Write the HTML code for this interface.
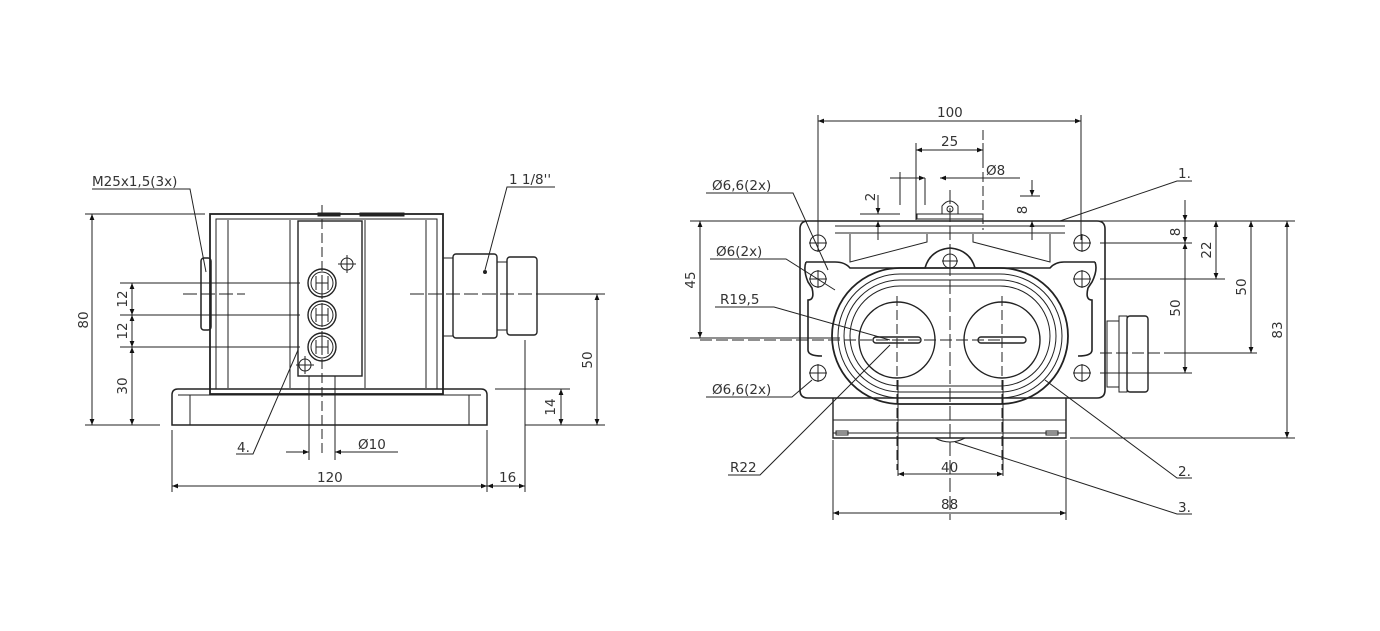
<!DOCTYPE html>
<html><head><meta charset="utf-8"><style>
html,body{margin:0;padding:0;background:#fff}
svg{display:block}
text{font-family:"DejaVu Sans","Liberation Sans",sans-serif;font-size:13.5px;fill:#333}
</style></head><body>
<svg width="1380" height="631" viewBox="0 0 1380 631" xmlns="http://www.w3.org/2000/svg">
<defs>
<marker id="a" viewBox="0 0 10 10" refX="10" refY="5" markerWidth="9" markerHeight="6" orient="auto-start-reverse" markerUnits="userSpaceOnUse"><path d="M0,1 L10,5 L0,9z" fill="#111"/></marker>
</defs>
<g fill="none" stroke="#222" stroke-width="1">
<!-- ============ LEFT VIEW ============ -->
<rect x="210" y="214" width="233" height="180" stroke-width="1.8"/>
<rect x="216" y="219" width="221" height="170"/>
<line x1="228" y1="220" x2="228" y2="388"/><line x1="290" y1="220" x2="290" y2="388"/>
<line x1="365" y1="220" x2="365" y2="388"/><line x1="426" y1="220" x2="426" y2="388"/>
<rect x="298" y="221" width="64" height="155" stroke-width="1.4"/>
<rect x="318" y="213" width="22" height="3" fill="#222"/><rect x="360" y="213" width="44" height="3" fill="#222"/>
<path d="M178,389 H481 Q487,389 487,395 V425 H172 V395 Q172,389 178,389Z" stroke-width="1.5"/>
<line x1="190" y1="395" x2="190" y2="425"/><line x1="469" y1="395" x2="469" y2="425"/>
<line x1="178" y1="395" x2="481" y2="395"/>
<rect x="201" y="258" width="10" height="72" rx="3" stroke-width="1.5"/>
<rect x="443" y="258" width="10" height="78"/>
<rect x="453" y="254" width="44" height="84" rx="3" stroke-width="1.4"/>
<rect x="497" y="262" width="10" height="68"/>
<rect x="507" y="257" width="30" height="78" rx="3" stroke-width="1.4"/>
<circle cx="485" cy="272" r="1.5" fill="#222"/>
<g stroke-width="1.4">
<circle cx="322" cy="283" r="14"/><circle cx="322" cy="315" r="14"/><circle cx="322" cy="347" r="14"/>
</g>
<circle cx="322" cy="283" r="11"/><circle cx="322" cy="315" r="11"/><circle cx="322" cy="347" r="11"/>
<path d="M316,276v14M322,276v14M328,276v14M316,283h12M316,308v14M322,308v14M328,308v14M316,315h12M316,340v14M322,340v14M328,340v14M316,347h12"/>
<circle cx="347" cy="264" r="6"/><path d="M347,255v18M338,264h18"/>
<circle cx="305" cy="365" r="6"/><path d="M305,356v18M296,365h18"/>
<path d="M322,205V455" stroke-dasharray="10,4"/>
<path d="M183,294H245M410,294H537" stroke-dasharray="14,4"/>
<path d="M85,214H205M85,425H160M120,283H300M120,315H300M120,347H300M200,425H230M430,425H470M525,425H605M537,294H605M495,389H570"/>
<line x1="92" y1="214" x2="92" y2="425" marker-start="url(#a)" marker-end="url(#a)"/>
<line x1="132" y1="283" x2="132" y2="315" marker-start="url(#a)" marker-end="url(#a)"/>
<line x1="132" y1="315" x2="132" y2="347" marker-start="url(#a)" marker-end="url(#a)"/>
<line x1="132" y1="347" x2="132" y2="425" marker-start="url(#a)" marker-end="url(#a)"/>
<line x1="597" y1="294" x2="597" y2="425" marker-start="url(#a)" marker-end="url(#a)"/>
<line x1="561" y1="389" x2="561" y2="425" marker-start="url(#a)" marker-end="url(#a)"/>
<path d="M172,430V492M487,430V492M525,340V492M309,376V460M335,376V460"/>
<line x1="172" y1="486" x2="487" y2="486" marker-start="url(#a)" marker-end="url(#a)"/>
<line x1="487" y1="486" x2="525" y2="486" marker-start="url(#a)" marker-end="url(#a)"/>
<line x1="286" y1="452" x2="309" y2="452" marker-end="url(#a)"/>
<line x1="360" y1="452" x2="335" y2="452" marker-end="url(#a)"/>
<path d="M360,452H398"/>
<path d="M92,189H190L206,272"/>
<path d="M555,187H507L485,270"/>
<path d="M236,454H253L298,350"/>

<!-- ============ RIGHT VIEW ============ -->
<path d="M833,398V438H1066V398" stroke-width="1.4"/>
<line x1="833" y1="420" x2="1066" y2="420"/><line x1="833" y1="433" x2="1066" y2="433"/>
<path d="M836,431h12v4h-12zM1046,431h12v4h-12z"/>
<path d="M935,438q15,8 30,0"/>
<path d="M808,221H1097Q1105,221 1105,229V390Q1105,398 1097,398H808Q800,398 800,390V229Q800,221 808,221Z" stroke-width="1.6"/>
<path d="M835,226H1065M835,233H1065"/>
<path d="M850,234V262L927,242V234M1050,234V262L973,242V234"/>
<path d="M806,262H835Q845,262 850,268 L925,268 Q930,250 950,248 Q970,250 975,268 L1050,268 Q1055,262 1064,262H1095 M806,262 Q803,270 808,282 L812,288 Q815,300 808,300 V350 Q808,356 822,356 M1095,262 Q1098,270 1092,282 L1088,288 Q1085,300 1092,300 V350 Q1092,356 1078,356" stroke-width="1.6"/>
<path d="M900,268H1000A68,68 0 0 1 1068,336A68,68 0 0 1 1000,404H900A68,68 0 0 1 832,336A68,68 0 0 1 900,268Z" stroke-width="1.8"/>
<path d="M900,274H1000A62,62 0 0 1 1062,336A62,62 0 0 1 1000,398H900A62,62 0 0 1 838,336A62,62 0 0 1 900,274Z"/>
<path d="M900,280H1000A56,56 0 0 1 1056,336A56,56 0 0 1 1000,392H900A56,56 0 0 1 844,336A56,56 0 0 1 900,280Z"/>
<path d="M900,286H1000A50,50 0 0 1 1050,336A50,50 0 0 1 1000,386H900A50,50 0 0 1 850,336A50,50 0 0 1 900,286Z"/>
<circle cx="897" cy="340" r="38" stroke-width="1.4"/><circle cx="1002" cy="340" r="38" stroke-width="1.4"/>
<rect x="873" y="337" width="48" height="6" rx="3" stroke-width="1.4"/>
<rect x="978" y="337" width="48" height="6" rx="3" stroke-width="1.4"/>
<g>
<circle cx="818" cy="243" r="8"/><circle cx="818" cy="279" r="8"/><circle cx="818" cy="373" r="8"/>
<circle cx="1082" cy="243" r="8"/><circle cx="1082" cy="279" r="8"/><circle cx="1082" cy="373" r="8"/>
<circle cx="950" cy="261" r="7"/>
<path d="M818,234v18M809,243h18M818,270v18M809,279h18M818,364v18M809,373h18M1082,234v18M1073,243h18M1082,270v18M1073,279h18M1082,364v18M1073,373h18M950,253v16M942,261h16"/>
</g>
<rect x="917" y="214" width="66" height="5"/>
<path d="M942,214V206Q950,196 958,206V214"/><circle cx="950" cy="209" r="3"/>
<rect x="1107" y="321" width="12" height="66"/>
<rect x="1119" y="316" width="8" height="76"/>
<rect x="1127" y="316" width="21" height="76" rx="3" stroke-width="1.4"/>
<path d="M950,190V520" stroke-dasharray="14,4"/>
<path d="M897,296V470M1002,296V470M983,130V230M833,400V440M1066,400V440" stroke-dasharray="10,4"/>
<path d="M700,340H1000M1100,353H1175" stroke-dasharray="12,4"/>
<path d="M818,115V240M1081,115V240M916,143V220M983,143V160M690,221H870M1035,221H1295M690,338H840M1100,243H1192M1100,279H1225M1175,353H1257M1100,373H1192M1070,438H1295M898,380V476M1003,380V476M833,440V520M1066,440V520M900,172V205M925,178V205M860,214H900M1020,196H1040"/>
<line x1="818" y1="121" x2="1081" y2="121" marker-start="url(#a)" marker-end="url(#a)"/>
<line x1="916" y1="150" x2="983" y2="150" marker-start="url(#a)" marker-end="url(#a)"/>
<line x1="890" y1="178" x2="925" y2="178" marker-end="url(#a)"/>
<line x1="960" y1="178" x2="940" y2="178" marker-end="url(#a)"/>
<path d="M960,178H1020"/>
<line x1="878" y1="195" x2="878" y2="214" marker-end="url(#a)"/>
<line x1="878" y1="240" x2="878" y2="221" marker-end="url(#a)"/>
<line x1="1032" y1="180" x2="1032" y2="196" marker-end="url(#a)"/>
<line x1="1032" y1="240" x2="1032" y2="221" marker-end="url(#a)"/>
<line x1="700" y1="221" x2="700" y2="338" marker-start="url(#a)" marker-end="url(#a)"/>
<line x1="1185" y1="200" x2="1185" y2="221" marker-end="url(#a)"/>
<line x1="1185" y1="221" x2="1185" y2="243" marker-end="url(#a)"/>
<line x1="1185" y1="243" x2="1185" y2="373" marker-start="url(#a)" marker-end="url(#a)"/>
<line x1="1216" y1="221" x2="1216" y2="279" marker-start="url(#a)" marker-end="url(#a)"/>
<line x1="1251" y1="221" x2="1251" y2="353" marker-start="url(#a)" marker-end="url(#a)"/>
<line x1="1287" y1="221" x2="1287" y2="438" marker-start="url(#a)" marker-end="url(#a)"/>
<line x1="898" y1="474" x2="1003" y2="474" marker-start="url(#a)" marker-end="url(#a)"/>
<line x1="833" y1="513" x2="1066" y2="513" marker-start="url(#a)" marker-end="url(#a)"/>
<path d="M706,193H793L828,270"/>
<path d="M710,259H786L835,290"/>
<path d="M715,307H774L890,340"/>
<path d="M706,397H792L812,380"/>
<path d="M728,475H760L890,345"/>
<path d="M1192,181H1177L1060,221"/>
<path d="M1192,478H1177L1045,380"/>
<path d="M1192,514H1177L955,442"/>
</g>
<text x="92" y="186">M25x1,5(3x)</text>
<text x="509" y="184">1 1/8''</text>
<text x="237" y="452">4.</text>
<text x="358" y="449">Ø10</text>
<text x="317" y="482">120</text>
<text x="499" y="482">16</text>
<text transform="translate(88,320) rotate(-90)" text-anchor="middle">80</text>
<text transform="translate(127,299) rotate(-90)" text-anchor="middle">12</text>
<text transform="translate(127,331) rotate(-90)" text-anchor="middle">12</text>
<text transform="translate(127,386) rotate(-90)" text-anchor="middle">30</text>
<text transform="translate(592,360) rotate(-90)" text-anchor="middle">50</text>
<text transform="translate(555,407) rotate(-90)" text-anchor="middle">14</text>

<text x="937" y="117">100</text>
<text x="941" y="146">25</text>
<text x="986" y="175">Ø8</text>
<text transform="translate(875,197) rotate(-90)" text-anchor="middle">2</text>
<text transform="translate(1027,210) rotate(-90)" text-anchor="middle">8</text>
<text x="712" y="190">Ø6,6(2x)</text>
<text x="716" y="256">Ø6(2x)</text>
<text x="720" y="304">R19,5</text>
<text x="712" y="394">Ø6,6(2x)</text>
<text x="730" y="472">R22</text>
<text x="1178" y="178">1.</text>
<text x="1178" y="476">2.</text>
<text x="1178" y="512">3.</text>
<text x="941" y="472">40</text>
<text x="941" y="509">88</text>
<text transform="translate(695,280) rotate(-90)" text-anchor="middle">45</text>
<text transform="translate(1180,232) rotate(-90)" text-anchor="middle">8</text>
<text transform="translate(1180,308) rotate(-90)" text-anchor="middle">50</text>
<text transform="translate(1211,250) rotate(-90)" text-anchor="middle">22</text>
<text transform="translate(1246,287) rotate(-90)" text-anchor="middle">50</text>
<text transform="translate(1282,330) rotate(-90)" text-anchor="middle">83</text>
</svg>
</body></html>
